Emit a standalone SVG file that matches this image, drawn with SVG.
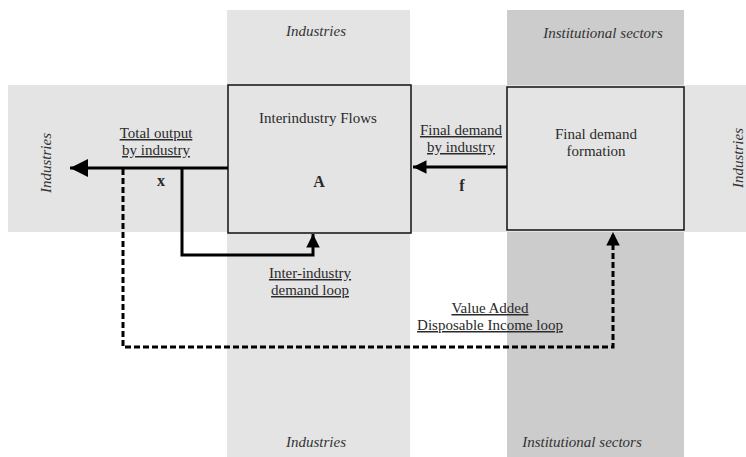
<svg xmlns="http://www.w3.org/2000/svg" width="746" height="457" viewBox="0 0 746 457">
<defs>
<style>
text{font-family:"Liberation Serif","Times New Roman",serif;font-size:15px;fill:#2a2a2a}
.it{font-style:italic;fill:#333}
.b{font-weight:bold;font-size:16px}
.ul{text-decoration:underline}
.box{fill:#e4e4e4;stroke:#111;stroke-width:1.5}
.solid{fill:none;stroke:#000;stroke-width:3}
.dash{fill:none;stroke:#000;stroke-width:3;stroke-dasharray:6 3}
</style>
<marker id="ah" viewBox="0 0 10 10" refX="10" refY="5" markerWidth="6" markerHeight="6" orient="auto" markerUnits="strokeWidth">
<path d="M0,0 L10,5 L0,10 z" fill="#000"/>
</marker>
<marker id="ahs" viewBox="0 0 10 10" refX="10" refY="5" markerWidth="4.5" markerHeight="4.5" orient="auto" markerUnits="strokeWidth">
<path d="M0,0 L10,5 L0,10 z" fill="#000"/>
</marker>
</defs>
<rect width="746" height="457" fill="#fff"/>
<g id="bands">
<rect x="8" y="85" width="738" height="147" fill="#e4e4e4"/>
<rect x="227" y="10" width="183" height="447" fill="#e4e4e4"/>
<rect x="507" y="10" width="177" height="447" fill="#cccccc"/>
<rect x="507" y="85" width="177" height="147" fill="#e4e4e4"/>
</g>
<g id="band-labels">
<text class="it" x="316" y="36" text-anchor="middle">Industries</text>
<text class="it" x="603" y="38" text-anchor="middle">Institutional sectors</text>
<text class="it" x="316" y="447" text-anchor="middle">Industries</text>
<text class="it" x="582" y="447" text-anchor="middle">Institutional sectors</text>
<text class="it" transform="translate(51,163) rotate(-90)" text-anchor="middle">Industries</text>
<text class="it" transform="translate(743,158) rotate(-90)" text-anchor="middle">Industries</text>
</g>
<g id="node-interindustry">
<rect class="box" x="228" y="85" width="183" height="148"/>
<text x="318" y="123" text-anchor="middle">Interindustry Flows</text>
<text class="b" x="319" y="187" text-anchor="middle">A</text>
</g>
<g id="node-finaldemand">
<rect class="box" x="507" y="87" width="177" height="143"/>
<text x="596" y="139" text-anchor="middle">Final demand</text>
<text x="596" y="156" text-anchor="middle">formation</text>
</g>
<g id="connectors">
<path class="solid" d="M228,168 H70" marker-end="url(#ah)"/>
<path class="solid" d="M182,168 V255 H313 V234" marker-end="url(#ahs)"/>
<path class="solid" d="M507,167 H413" marker-end="url(#ahs)"/>
<path class="dash" d="M123,169 V347 H613 V232" marker-end="url(#ahs)"/>
</g>
<g id="labels">
<text class="ul" x="156" y="138" text-anchor="middle">Total output</text>
<text class="ul" x="156" y="155" text-anchor="middle">by industry</text>
<text class="b" x="161" y="186" text-anchor="middle">x</text>
<text class="ul" x="461" y="135" text-anchor="middle">Final demand</text>
<text class="ul" x="461" y="152" text-anchor="middle">by industry</text>
<text class="b" x="462" y="191" text-anchor="middle">f</text>
<text class="ul" x="310" y="278" text-anchor="middle">Inter-industry</text>
<text class="ul" x="310" y="295" text-anchor="middle">demand loop</text>
<text class="ul" x="490" y="313" text-anchor="middle">Value Added</text>
<text class="ul" x="490" y="330" text-anchor="middle">Disposable Income loop</text>
</g>
</svg>
